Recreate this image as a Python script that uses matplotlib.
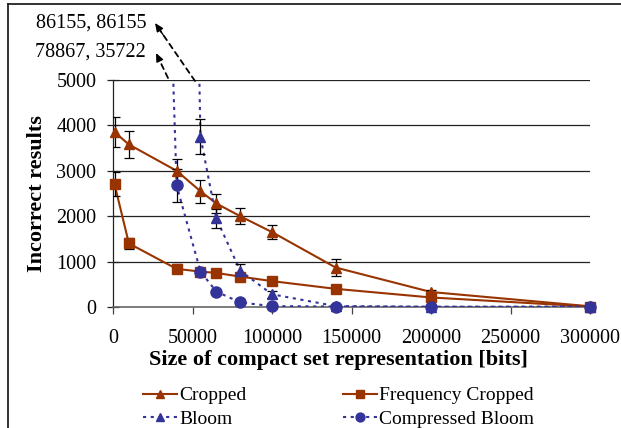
import numpy as np
import matplotlib
matplotlib.use("Agg")
import matplotlib.pyplot as plt
from matplotlib.lines import Line2D

plt.rcParams['font.family'] = ['Liberation Serif', 'DejaVu Serif']

# ---- data ----
sizes = [1000, 10000, 40000, 55000, 65000, 80000, 100000, 140000, 200000, 300000]
cropped = [3850, 3580, 3000, 2550, 2280, 2000, 1650, 870, 330, 15]
cropped_err = [330, 300, 250, 250, 200, 180, 160, 180, 50, 10]
freq_cropped = [2700, 1400, 840, 780, 750, 670, 570, 400, 210, 10]
freq_cropped_err = [265, 130, 100, 60, 40, 40, 30, 30, 20, 5]
bloom_sizes = [1000, 10000, 55000, 65000, 80000, 100000, 140000, 200000, 300000]
bloom = [86155, 86155, 3750, 1950, 800, 280, 20, 5, 0]
bloom_err = [0, 0, 380, 200, 140, 80, 10, 5, 5]
cbloom = [78867, 35722, 2680, 780, 340, 100, 20, 10, 5, 10]
cbloom_err = [0, 0, 370, 60, 40, 30, 10, 5, 5, 5]

x_ticks = [0, 50000, 100000, 150000, 200000, 250000, 300000]
y_ticks = [0, 1000, 2000, 3000, 4000, 5000]
note_top = "86155, 86155"
note_bottom = "78867, 35722"

ORANGE = '#993300'
BLUE = '#333399'
FS = 14.5
LFS = 14

W, H = 621, 428
fig = plt.figure(figsize=(W / 100, H / 100), dpi=100)
ax = fig.add_axes([113 / W, 1 - 307 / H, (590 - 113) / W, (307 - 80) / H])

ax.set_xlim(0, 300000)
ax.set_ylim(0, 5000)

for v in y_ticks[1:]:
    ax.axhline(v, color='#222222', lw=0.9, zorder=1)

dots = (0, (1.5, 2.2))

def series(xs, ys, errs, color, marker, ms, ls, label):
    xs = np.asarray(xs, float)
    ys = np.asarray(ys, float)
    errs = np.asarray(errs, float)
    ax.plot(xs, ys, color=color, lw=1.5, ls=ls, zorder=3)
    vis = ys <= 5000
    ax.errorbar(xs[vis], ys[vis], yerr=errs[vis], fmt='none', ecolor='black',
                elinewidth=0.9, capsize=3.5, capthick=0.9, zorder=4)
    ax.plot(xs[vis], ys[vis], ls='none', marker=marker, ms=ms, color=color,
            mec=color, clip_on=False, zorder=5)
    return Line2D([], [], color=color, lw=1.5, ls=ls, marker=marker, ms=ms * 0.8,
                  label=label)

h1 = series(sizes, cropped, cropped_err, ORANGE, '^', 7, '-', 'Cropped')
h2 = series(sizes, freq_cropped, freq_cropped_err, ORANGE, 's', 6.5, '-', 'Frequency Cropped')
h3 = series(bloom_sizes, bloom, bloom_err, BLUE, '^', 7, dots, 'Bloom')
h4 = series(sizes, cbloom, cbloom_err, BLUE, 'o', 8, dots, 'Compressed Bloom')

for s in ['top', 'right']:
    ax.spines[s].set_visible(False)
ax.spines['left'].set_color('#222222')
ax.spines['bottom'].set_color('#666666')
ax.spines['left'].set_linewidth(0.9)
ax.spines['bottom'].set_linewidth(1.2)

ax.set_xticks(x_ticks)
ax.set_xticklabels([str(t) for t in x_ticks])
ax.set_yticks(y_ticks)
ax.set_yticklabels([str(t) for t in y_ticks])
ax.tick_params(axis='x', direction='out', length=5, width=0.9, labelsize=FS, pad=11, color='#444444')
ax.tick_params(axis='y', direction='inout', length=8, width=0.9, labelsize=FS, pad=8, color='#222222')

ax.set_xlabel('Size of compact set representation [bits]', fontsize=16,
              fontweight='bold', labelpad=0)
ax.xaxis.set_label_coords((338 - 113) / 477, -(350 - 307) / 227)
ax.set_ylabel('Incorrect results', fontsize=16, fontweight='bold')
ax.yaxis.set_label_coords(-(113 - 47) / 477, 0.5)

# legend
fig.legend(handles=[h1, h3, h2, h4], ncol=2, frameon=False, fontsize=LFS,
           loc='upper left', bbox_to_anchor=(135 / W, 1 - 379 / H),
           handlelength=1.75, handletextpad=0.12, columnspacing=4.95,
           labelspacing=0.3, borderaxespad=0)

# annotations with dashed arrows
fig.text(146 / W, 1 - 23 / H, note_top, ha='right', va='center', fontsize=FS)
fig.text(146 / W, 1 - 52 / H, note_bottom, ha='right', va='center', fontsize=FS)

def arrow(x0, y0, x1, y1):
    ax.annotate('', xy=(x1 / W, 1 - y1 / H), xycoords='figure fraction',
                xytext=(x0 / W, 1 - y0 / H), textcoords='figure fraction',
                arrowprops=dict(arrowstyle='-', color='black', lw=1.3,
                                linestyle=(0, (3, 2.5)), shrinkA=0, shrinkB=6),
                annotation_clip=False)
    ax.annotate('', xy=(x1 / W, 1 - y1 / H), xycoords='figure fraction',
                xytext=(x1 / W + (x0 - x1) / W * 0.2, 1 - (y1 + (y0 - y1) * 0.2) / H),
                textcoords='figure fraction',
                arrowprops=dict(arrowstyle='-|>,head_length=0.5,head_width=0.22',
                                color='black', lw=1.0, shrinkA=0, shrinkB=0),
                annotation_clip=False)

arrow(195, 81, 155, 23)
arrow(168, 78, 156, 53)

# chart area border (left and top)
fig.add_artist(Line2D([8 / W, 8 / W], [0, 1 - 4 / H], color='#222222', lw=1.3,
                      transform=fig.transFigure))
fig.add_artist(Line2D([8 / W, 1], [1 - 4 / H, 1 - 4 / H], color='#222222', lw=1.3,
                      transform=fig.transFigure))

fig.savefig('out.png', dpi=100)
